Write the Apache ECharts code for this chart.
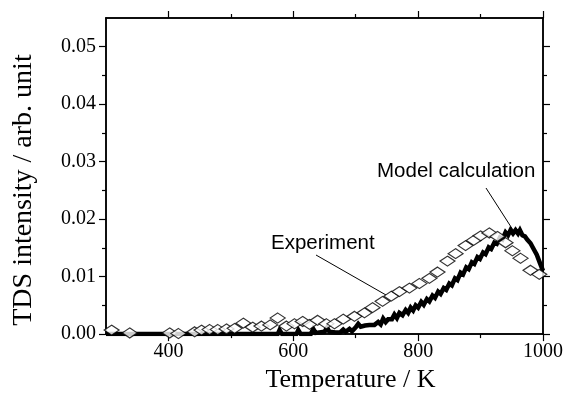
<!DOCTYPE html>
<html>
<head>
<meta charset="utf-8">
<script src="https://cdn.jsdelivr.net/npm/echarts@6/dist/echarts.min.js"></script>
<style>html,body{margin:0;padding:0;background:#fff}#c{width:566px;height:398px}</style>
</head>
<body>
<div id="c"></div>
<script>
// Experiment (open diamonds)
const expT = [309, 338, 402, 416, 442, 453, 466, 479, 493, 506, 520, 535, 549, 563, 575, 589, 602, 615, 626, 639, 653, 666, 680, 698, 714, 727, 743, 757, 770, 786, 802, 818, 831, 847, 860, 876, 889, 900, 914, 927, 940, 951, 964, 980, 994];
const expV = [0.0007, 0.0002, 0.0002, 0.0001, 0.0004, 0.0007, 0.0008, 0.0008, 0.0009, 0.0010, 0.0019, 0.0012, 0.0014, 0.0016, 0.0028, 0.0014, 0.0018, 0.0022, 0.0017, 0.0024, 0.0018, 0.0018, 0.0026, 0.0031, 0.0037, 0.0046, 0.0057, 0.0066, 0.0074, 0.0080, 0.0088, 0.0097, 0.0108, 0.0127, 0.0140, 0.0154, 0.0163, 0.0171, 0.0176, 0.0170, 0.0159, 0.0145, 0.0132, 0.0111, 0.0104];
// Model calculation (thick line)
const modelT = [300, 560, 575, 578, 582, 605, 608, 612, 628, 632, 636, 650, 654, 658, 668, 675, 680, 684, 690, 694, 700, 704, 708, 715, 722, 730, 736, 740, 744, 748, 752, 758, 762, 766, 770, 775, 780, 784, 788, 792, 796, 800, 805, 809, 814, 818, 823, 827, 832, 836, 841, 845, 850, 854, 859, 863, 868, 872, 877, 881, 886, 890, 895, 899, 904, 908, 913, 917, 922, 926, 931, 935, 940, 944, 948, 952, 956, 960, 963, 967, 971, 975, 980, 985, 990, 995, 1000];
const modelV = [0, 0, 0, 0.0007, 0, 0, 0.0007, 0, 0, 0.0009, 0.0002, 0.0004, 0.0011, 0.0004, 0.0003, 0.0003, 0.0008, 0.0004, 0.0009, 0.0005, 0.0012, 0.0018, 0.0013, 0.0015, 0.0016, 0.0016, 0.0021, 0.0017, 0.0027, 0.0021, 0.0026, 0.0026, 0.0034, 0.0028, 0.0037, 0.0033, 0.0042, 0.0037, 0.0046, 0.0041, 0.0050, 0.0046, 0.0056, 0.0051, 0.0061, 0.0057, 0.0067, 0.0063, 0.0074, 0.0070, 0.0080, 0.0077, 0.0088, 0.0085, 0.0097, 0.0094, 0.0107, 0.0104, 0.0116, 0.0113, 0.0125, 0.0122, 0.0134, 0.0131, 0.0142, 0.0139, 0.0151, 0.0148, 0.0159, 0.0157, 0.0168, 0.0165, 0.0177, 0.0172, 0.0181, 0.0175, 0.0181, 0.0175, 0.0181, 0.0172, 0.0170, 0.0164, 0.0158, 0.0148, 0.0138, 0.0124, 0.0110];
// Ticks
const xMajor = [400, 600, 800, 1000];
const xMinor = [500, 700, 900];
const yMajor = [0, 0.01, 0.02, 0.03, 0.04, 0.05];
const yMinor = [0.005, 0.015, 0.025, 0.035, 0.045];
const xTitle = 'Temperature / K';
const yTitle = 'TDS intensity / arb. unit';

const X_MIN = 300, X_MAX = 1000, Y_MIN = 0, Y_MAX = 0.055;
const serif = 'Liberation Serif';
const lineStyle = { color: '#000', width: 1.5 };

function xAx(pos, vals, len, labels) {
  return {
    type: 'value', position: pos, min: X_MIN, max: X_MAX, interval: 100,
    axisLine: { show: true, onZero: false, lineStyle },
    axisTick: { show: true, inside: false, length: len, customValues: vals, lineStyle: { color: '#000', width: 1.2 } },
    axisLabel: labels ? { show: true, customValues: vals, color: '#000', fontFamily: serif, fontSize: 20, margin: 8,
      formatter: v => String(v) } : { show: false },
    splitLine: { show: false }
  };
}
function yAx(pos, vals, len, labels) {
  return {
    type: 'value', position: pos, min: Y_MIN, max: Y_MAX, interval: 0.005,
    axisLine: { show: true, onZero: false, lineStyle },
    axisTick: { show: true, inside: false, length: len, customValues: vals, lineStyle: { color: '#000', width: 1.2 } },
    axisLabel: labels ? { show: true, customValues: vals, color: '#000', fontFamily: serif, fontSize: 20, margin: 10,
      formatter: v => v.toFixed(2) } : { show: false },
    splitLine: { show: false }
  };
}

const xAxes = [xAx('bottom', xMajor, 7, true), xAx('bottom', xMinor, 4, false), xAx('top', xMajor, 7, false), xAx('top', xMinor, 4, false)];
xAxes[0].name = xTitle;
xAxes[0].nameLocation = 'middle';
xAxes[0].nameGap = 32;
xAxes[0].nameTextStyle = { fontFamily: serif, fontSize: 26, color: '#000', padding: [0, 0, 0, 52] };
const yAxes = [yAx('left', yMajor, 7, true), yAx('left', yMinor, 4, false), yAx('right', yMajor, 7, false), yAx('right', yMinor, 4, false)];
yAxes[0].name = yTitle;
yAxes[0].nameLocation = 'middle';
yAxes[0].nameGap = 68;
yAxes[0].nameTextStyle = { fontFamily: serif, fontSize: 28, color: '#000', padding: [0, 28, 0, 0] };

const chart = echarts.init(document.getElementById('c'), null, { renderer: 'canvas' });
chart.setOption({
  backgroundColor: '#fff',
  animation: false,
  grid: { left: 106, right: 22, top: 18, bottom: 58, containLabel: false },
  xAxis: xAxes,
  yAxis: yAxes,
  series: [
    {
      name: 'Model calculation', type: 'line', xAxisIndex: 0, yAxisIndex: 0,
      data: modelT.map((t, i) => [t, modelV[i]]),
      showSymbol: false, symbol: 'none',
      lineStyle: { color: '#000', width: 4.5, join: 'miter' }, z: 2
    },
    {
      name: 'Experiment', type: 'scatter', xAxisIndex: 0, yAxisIndex: 0,
      data: expT.map((t, i) => [t, expV[i]]),
      symbol: 'diamond', symbolSize: [15, 10],
      itemStyle: { color: '#fff', borderColor: '#000', borderWidth: 1.2 }, z: 3
    }
  ],
  graphic: [
    { type: 'text', left: 377, top: 161, style: { text: 'Model calculation', fontFamily: 'Liberation Sans', fontSize: 20.5, fill: '#000' } },
    { type: 'line', shape: { x1: 486, y1: 188, x2: 513, y2: 230 }, style: { stroke: '#000', lineWidth: 1 } },
    { type: 'text', left: 271, top: 233, style: { text: 'Experiment', fontFamily: 'Liberation Sans', fontSize: 20.5, fill: '#000' } },
    { type: 'line', shape: { x1: 316, y1: 255, x2: 386, y2: 295 }, style: { stroke: '#000', lineWidth: 1 } }
  ]
});
</script>
</body>
</html>
